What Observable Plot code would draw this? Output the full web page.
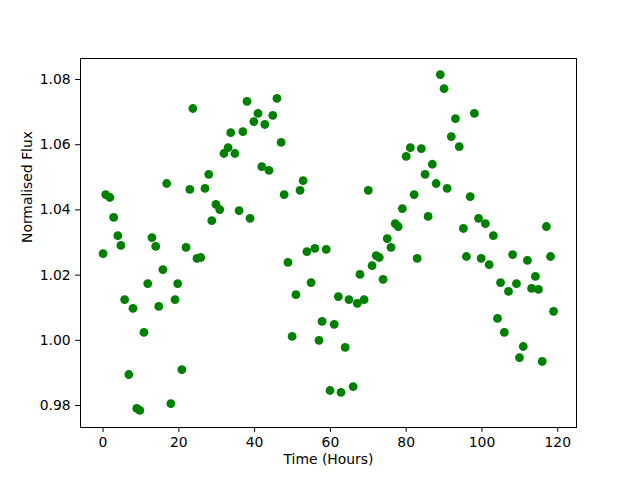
<!DOCTYPE html>
<html>
<head>
<meta charset="utf-8">
<script src="https://cdn.jsdelivr.net/npm/d3@7"></script>
<script src="https://cdn.jsdelivr.net/npm/@observablehq/plot@0.6"></script>
<style>
  html, body { margin: 0; padding: 0; background: white; }
</style>
</head>
<body>
<div id="chart"></div>
<script>
const hours = [0, 0.7, 1.8, 2.8, 3.9, 4.7, 5.7, 6.8, 7.9, 8.9, 9.7, 10.8, 11.8, 12.9, 13.9, 14.7, 15.8, 16.8, 17.9, 19.0,
  19.7, 20.8, 21.9, 22.9, 23.7, 24.8, 25.8, 26.9, 27.9, 28.7, 29.8, 30.8, 31.9, 33.0, 33.7, 34.8, 35.9, 36.9, 38.0, 38.8,
  39.8, 40.9, 41.9, 42.7, 43.8, 44.8, 45.9, 47.0, 47.8, 48.8, 49.9, 50.9, 52.0, 52.8, 53.8, 54.9, 55.9, 57.0, 57.8, 58.9,
  59.9, 61.0, 62.1, 62.8, 63.9, 64.9, 66.0, 67.1, 67.8, 68.9, 70.0, 71.0, 72.1, 72.9, 73.9, 75.0, 76.0, 77.1, 77.9, 79.0,
  80.0, 81.1, 82.1, 82.9, 84.0, 85.0, 85.8, 86.9, 87.9, 89.0, 90.0, 90.8, 91.9, 93.0, 94.0, 95.1, 95.9, 96.9, 98.0, 99.1,
  99.8, 100.9, 101.9, 103.0, 104.1, 104.9, 105.9, 107.0, 108.1, 109.1, 109.9, 110.9, 112.0, 113.1, 114.1, 114.9, 115.9, 117.0, 118.1, 118.9];
const flux = [1.0266, 1.0447, 1.0438, 1.0377, 1.0321, 1.0291, 1.0125, 0.9895, 1.0098, 0.9791, 0.9785, 1.0024, 1.0174, 1.0315, 1.0288, 1.0104, 1.0217, 1.0481, 0.9806, 1.0125,
  1.0174, 0.9910, 1.0285, 1.0463, 1.0711, 1.0251, 1.0254, 1.0466, 1.0509, 1.0367, 1.0417, 1.0401, 1.0573, 1.0591, 1.0637, 1.0573, 1.0398, 1.0640, 1.0733, 1.0374,
  1.0671, 1.0696, 1.0533, 1.0662, 1.0521, 1.0690, 1.0742, 1.0607, 1.0447, 1.0239, 1.0012, 1.0140, 1.0460, 1.0490, 1.0272, 1.0177, 1.0282, 1.0000, 1.0058, 1.0279,
  0.9846, 1.0049, 1.0134, 0.9840, 0.9978, 1.0125, 0.9858, 1.0113, 1.0202, 1.0125, 1.0460, 1.0229, 1.0260, 1.0254, 1.0187, 1.0312, 1.0285, 1.0358, 1.0349, 1.0404,
  1.0564, 1.0591, 1.0447, 1.0251, 1.0588, 1.0509, 1.0380, 1.0540, 1.0481, 1.0815, 1.0772, 1.0466, 1.0625, 1.0680, 1.0594, 1.0343, 1.0257, 1.0441, 1.0696, 1.0374,
  1.0251, 1.0358, 1.0232, 1.0321, 1.0067, 1.0177, 1.0024, 1.0150, 1.0263, 1.0174, 0.9947, 0.9981, 1.0245, 1.0159, 1.0196, 1.0156, 0.9935, 1.0349, 1.0257, 1.0089];
const xTicks = [0, 20, 40, 60, 80, 100, 120];
const yTicks = [0.98, 1.00, 1.02, 1.04, 1.06, 1.08];
const xLabel = "Time (Hours)";
const yLabel = "Normalised Flux";

const data = hours.map((h, i) => ({h, f: flux[i]}));
const fs = 13.9;

const chart = Plot.plot({
  width: 640,
  height: 480,
  marginLeft: 80,
  marginRight: 64,
  marginTop: 58,
  marginBottom: 53,
  style: {fontFamily: "DejaVu Sans", fontSize: fs + "px", color: "black", background: "white"},
  x: {domain: [-5.95, 124.95]},
  y: {domain: [0.97325, 1.08644]},
  marks: [
    Plot.dot(data, {x: "h", y: "f", r: 4.4, fill: "green", stroke: "none"}),
    Plot.frame({stroke: "black", strokeWidth: 1}),
    Plot.axisX(xTicks, {tickSize: 4.9, tickPadding: 4.9, label: null, fontSize: fs, tickFormat: d => String(d)}),
    Plot.axisY(yTicks, {tickSize: 4.9, tickPadding: 4.9, label: null, fontSize: fs, tickFormat: d3.format(".2f")}),
    Plot.text([xLabel], {frameAnchor: "bottom", dy: 36, fontSize: fs, fill: "black"}),
    Plot.text([yLabel], {frameAnchor: "left", rotate: -90, dx: -53, fontSize: fs, fill: "black"})
  ]
});
document.getElementById("chart").appendChild(chart);
</script>
</body>
</html>
